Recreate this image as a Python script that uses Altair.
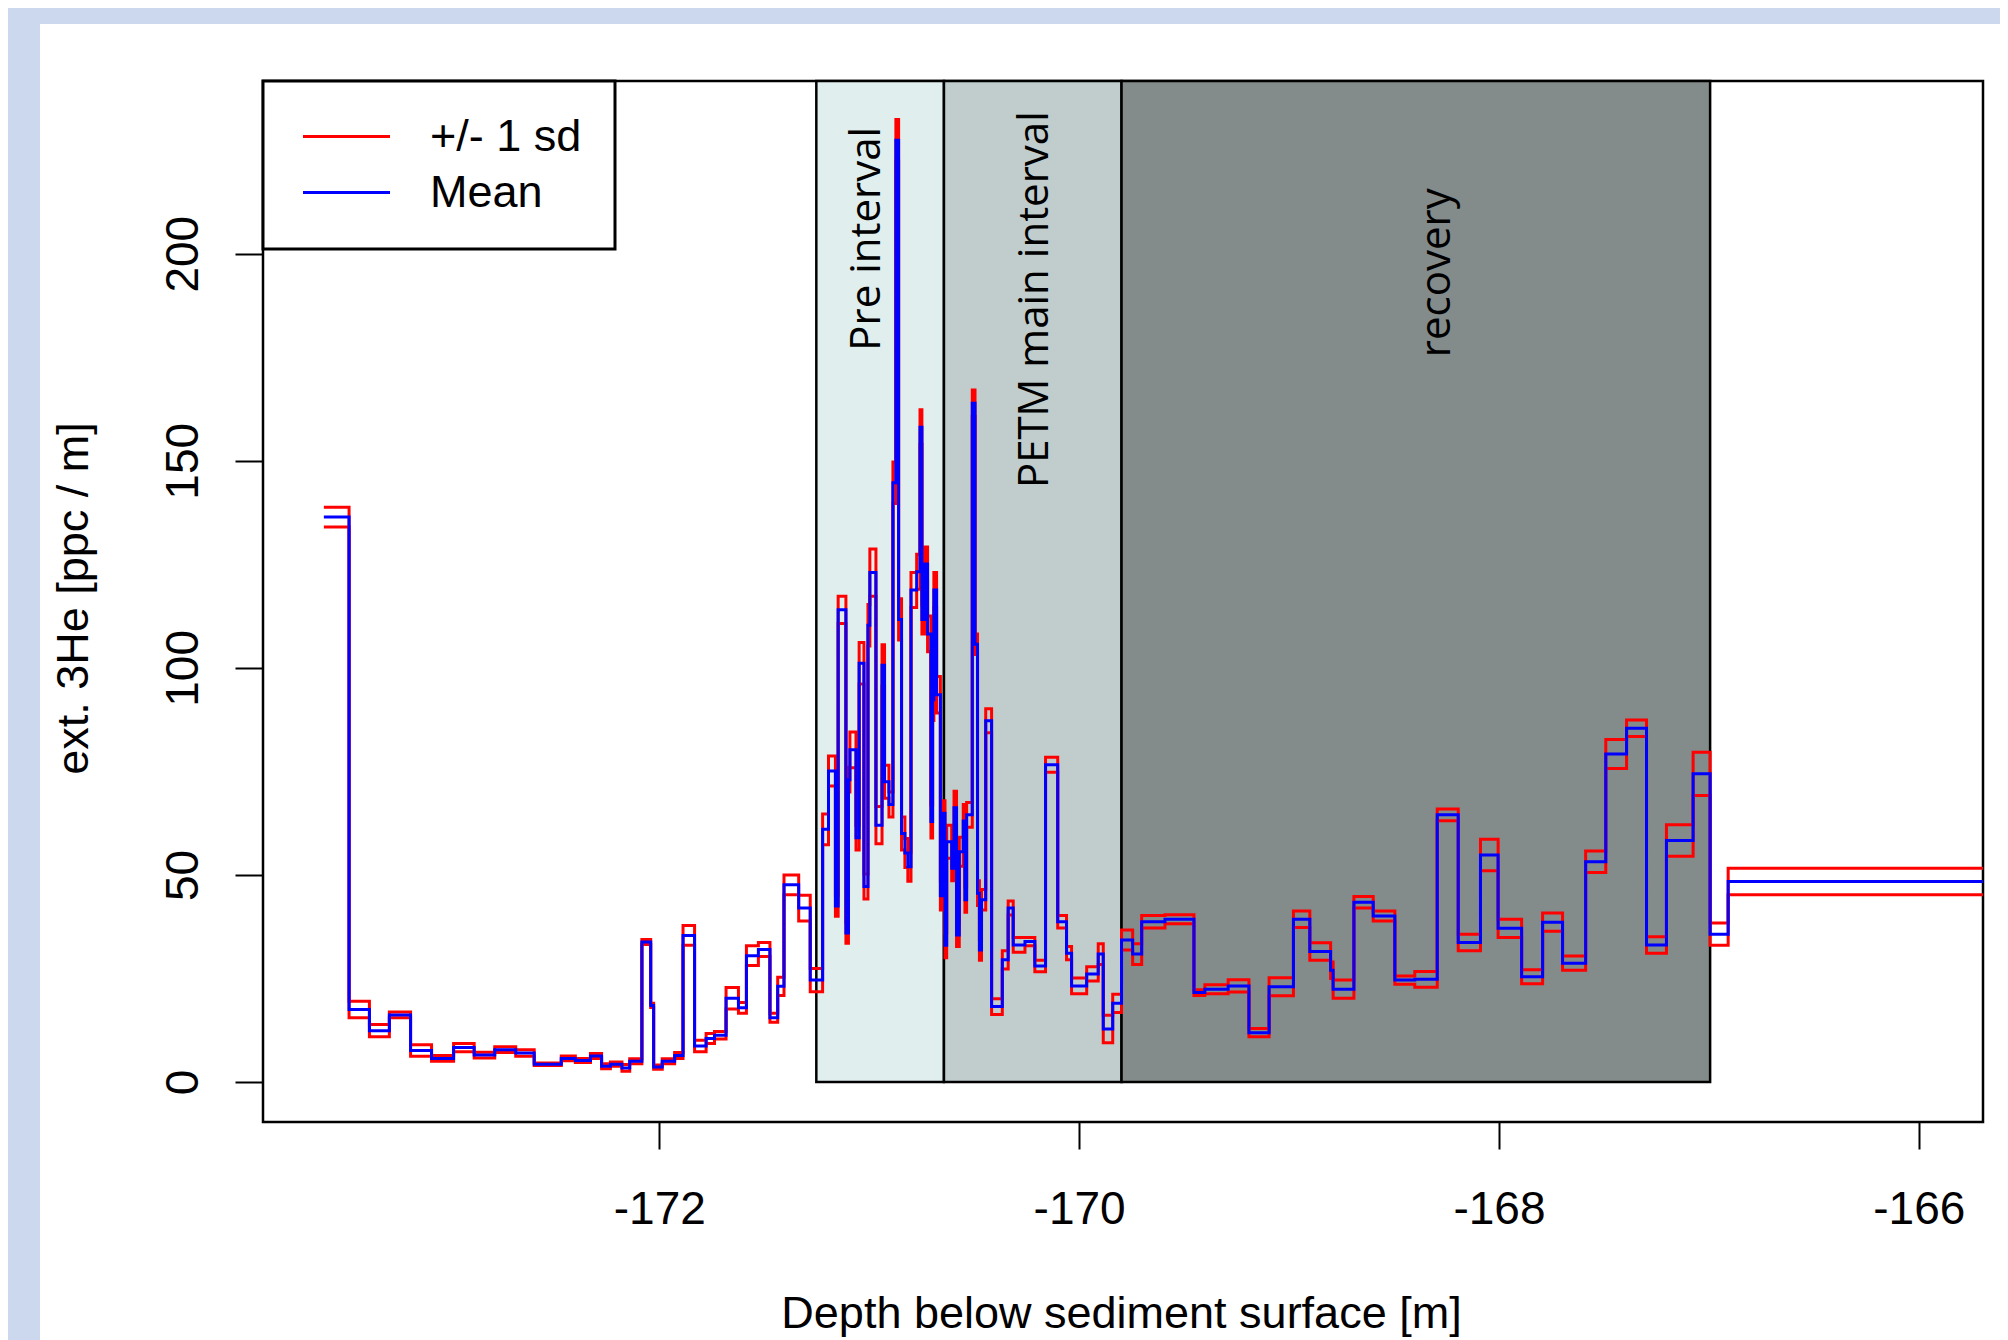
import altair as alt
import pandas as pd

# ---- step data: depth where each step starts, mean, sd ----
depth = [-173.598, -173.478, -173.381, -173.286, -173.185, -173.085, -172.980, -172.882,
         -172.784, -172.684, -172.596, -172.467, -172.400, -172.328, -172.275, -172.233,
         -172.178, -172.141, -172.083, -172.041, -172.027, -171.986, -171.927, -171.887,
         -171.832, -171.777, -171.737, -171.682, -171.623, -171.585, -171.528, -171.473,
         -171.436, -171.406, -171.336, -171.281, -171.222, -171.194,
         -171.161, -171.148, -171.111, -171.099, -171.092, -171.063, -171.048, -171.025,
         -171.006, -170.997, -170.968, -170.939, -170.927, -170.906, -170.887, -170.873,
         -170.860, -170.846, -170.830, -170.816, -170.801, -170.774, -170.758, -170.749,
         -170.735, -170.722, -170.706, -170.698, -170.692, -170.679, -170.661,
         -170.647, -170.639, -170.631, -170.607, -170.596, -170.584, -170.571, -170.552,
         -170.544, -170.536, -170.509, -170.496, -170.484, -170.475, -170.465, -170.445,
         -170.417, -170.366, -170.338, -170.314, -170.258, -170.211, -170.160, -170.102,
         -170.060, -170.036, -169.964, -169.909, -169.885, -169.840,
         -169.798, -169.745, -169.702, -169.591, -169.453, -169.401, -169.290, -169.191,
         -169.095, -168.979, -168.901, -168.802, -168.790, -168.691, -168.599, -168.496,
         -168.401, -168.294, -168.194, -168.088, -168.004, -167.892, -167.792, -167.697,
         -167.587, -167.491, -167.392, -167.297, -167.202, -167.075, -166.994, -166.908,
         -165.694]

mean = [136.4, 17.5, 12.4, 16.2, 7.6, 5.7, 8.3, 6.5,
        7.8, 7.0, 4.3, 5.7, 5.2, 6.3, 3.8, 4.3,
        3.4, 5.0, 33.8, 18.5, 3.6, 5.0, 6.4, 35.4,
        8.7, 10.5, 11.3, 20.2, 17.9, 30.5, 32.0, 15.5,
        23.1, 47.6, 42.0, 24.6, 61.0, 75.1,
        42.5, 114.0, 36.0, 73.0, 80.2, 59.0, 101.1, 47.2,
        110.3, 123.0, 62.0, 100.6, 72.5, 67.0, 144.7, 227.4,
        111.7, 60.0, 55.3, 52.0, 118.8, 123.2, 158.1, 111.7,
        125.1, 108.2, 62.9, 92.3, 118.8, 93.5, 45.0,
        64.9, 33.0, 58.0, 51.6, 66.2, 35.5, 55.6, 63.0,
        44.0, 64.5, 163.9, 105.7, 45.6, 31.9, 44.0, 87.2,
        18.2, 29.5, 42.0, 33.1, 33.9, 28.0, 76.6, 38.7,
        31.1, 23.2, 26.1, 30.9, 12.8, 19.0,
        34.3, 30.9, 38.7, 39.3, 21.6, 22.4, 23.2, 11.9,
        23.0, 39.3, 31.5, 27.0, 22.4, 43.4, 40.1, 24.6,
        24.8, 64.5, 33.7, 54.8, 37.1, 25.4, 38.6, 28.7,
        53.2, 79.2, 85.4, 33.1, 58.3, 74.4, 35.7, 48.4,
        48.4]

sd = [2.4, 2.0, 1.5, 0.7, 1.4, 0.7, 1.0, 0.7,
      0.7, 0.8, 0.3, 0.6, 0.5, 0.6, 0.6, 0.5,
      0.8, 0.6, 0.6, 0.5, 0.5, 0.6, 0.7, 2.4,
      1.4, 1.2, 0.9, 2.6, 1.3, 2.4, 1.7, 1.1,
      2.2, 2.4, 3.1, 2.8, 3.7, 3.6,
      2.5, 3.3, 2.5, 3.0, 4.3, 3.0, 5.0, 3.0,
      5.0, 5.7, 4.5, 5.0, 4.0, 3.0, 5.0, 5.0,
      5.0, 4.0, 3.5, 3.5, 4.2, 4.2, 4.2, 3.5,
      4.1, 4.3, 4.0, 5.0, 4.2, 4.4, 3.5,
      3.0, 3.0, 4.0, 3.0, 4.0, 2.8, 3.5, 4.0,
      3.0, 3.0, 3.2, 2.5, 3.0, 2.5, 2.5, 2.9,
      1.9, 2.2, 1.7, 1.8, 1.0, 1.4, 1.8, 1.5,
      1.6, 1.9, 1.7, 2.5, 3.3, 2.2,
      2.4, 2.5, 1.5, 1.1, 0.7, 1.1, 1.5, 1.0,
      2.2, 2.0, 2.1, 2.0, 2.2, 1.4, 1.2, 1.0,
      1.9, 1.4, 2.0, 3.8, 2.2, 1.7, 2.2, 1.7,
      2.6, 3.5, 2.0, 2.0, 3.8, 5.2, 2.7, 3.2,
      3.2]

assert len(depth) == len(mean) == len(sd), (len(depth), len(mean), len(sd))

# ---- shaded intervals ----
interval_names = ["Pre interval", "PETM main interval", "recovery"]
interval_start = [-171.252, -170.644, -169.798]
interval_end = [-170.644, -169.798, -166.994]
interval_colors = ["#E0EEEE", "#C1CDCD", "#838B8B"]

# ---- interval labels (centre along text, baseline position) ----
label_depth = [-170.949, -170.149, -168.234]
label_value = [203.6, 188.9, 195.4]

x_ticks = [-172, -170, -168, -166]
y_ticks = [0, 50, 100, 150, 200]
x_domain = [-173.888, -165.694]
y_domain = [-9.66, 241.7]

legend_names = ["+/- 1 sd", "Mean"]
legend_colors = ["#FF0000", "#0000FF"]

rows = []
for d, m, s in zip(depth, mean, sd):
    rows.append({"depth": d, "value": m + s, "line": "upper", "legend": legend_names[0]})
    rows.append({"depth": d, "value": m - s, "line": "lower", "legend": legend_names[0]})
    rows.append({"depth": d, "value": m, "line": "mean", "legend": legend_names[1]})
df = pd.DataFrame(rows)

intervals = pd.DataFrame({"name": interval_names, "start": interval_start,
                          "end": interval_end, "fill": interval_colors})
labels = pd.DataFrame({"name": interval_names, "depth": label_depth, "value": label_value})

W, H = 1720, 1041
PAD = {"left": 255, "top": 73, "right": 17, "bottom": 218}
BG = "#CBD8EE"

xscale = alt.Scale(domain=x_domain, nice=False, zero=False)
yscale = alt.Scale(domain=y_domain, nice=False, zero=False)

xaxis = alt.Axis(values=x_ticks, labelExpr="'' + datum.value", tickSize=27, tickWidth=2,
                 labelFontSize=46, labelFont="Liberation Sans", labelBaseline="alphabetic",
                 labelPadding=74, title="Depth below sediment surface [m]",
                 titleFontSize=45, titleFont="Liberation Sans", titleBaseline="alphabetic",
                 titleX=858, titleY=205, domain=False, grid=False)
yaxis = alt.Axis(values=y_ticks, labelAngle=270, labelAlign="center", labelBaseline="alphabetic",
                 labelPadding=38, tickSize=28, tickWidth=2, labelFontSize=46,
                 labelFont="Liberation Sans", title="ext. 3He [ppc / m]", titleAngle=270,
                 titleAlign="center", titleBaseline="alphabetic", titleX=-176, titleY=517,
                 titleFontSize=45, titleFont="Liberation Sans", domain=False, grid=False)

one = pd.DataFrame({"a": [0]})
strip_left = alt.Chart(one).mark_rect(color=BG).encode(
    x=alt.value(-PAD["left"]), x2=alt.value(-223), y=alt.value(-PAD["top"]),
    y2=alt.value(H + PAD["bottom"]))
strip_top = alt.Chart(one).mark_rect(color=BG).encode(
    x=alt.value(-PAD["left"]), x2=alt.value(W + PAD["right"]), y=alt.value(-PAD["top"]),
    y2=alt.value(-57))

shade = alt.Chart(intervals).mark_rect(stroke="black", strokeWidth=2.5).encode(
    x=alt.X("start:Q", scale=xscale, axis=xaxis),
    x2="end:Q",
    y=alt.datum(0, scale=yscale, axis=yaxis),
    y2=alt.value(0),
    fill=alt.Fill("fill:N", scale=None),
)

text = alt.Chart(labels).mark_text(angle=270, align="center", baseline="alphabetic",
                                   font="Open Sans", fontSize=42, color="black").encode(
    x=alt.X("depth:Q", scale=xscale),
    y=alt.Y("value:Q", scale=yscale),
    text="name:N",
)

color = alt.Color("legend:N",
                  scale=alt.Scale(domain=legend_names, range=legend_colors),
                  legend=alt.Legend(title=None, orient="none", legendX=0, legendY=0,
                                    symbolType="M-1,0H5", symbolSize=841,
                                    symbolStrokeWidth=3, symbolOffset=-1, labelOffset=90,
                                    labelFontSize=45, labelFont="Liberation Sans",
                                    labelColor="black", padding=33, rowPadding=10,
                                    strokeColor="black", fillColor="white"))

red = alt.Chart(df[df["legend"] == legend_names[0]]).mark_line(
    interpolate="step-after", strokeWidth=3, clip=True).encode(
    x=alt.X("depth:Q", scale=xscale),
    y=alt.Y("value:Q", scale=yscale),
    color=color,
    detail="line:N",
)
blue = alt.Chart(df[df["legend"] == legend_names[1]]).mark_line(
    interpolate="step-after", strokeWidth=3, clip=True).encode(
    x=alt.X("depth:Q", scale=xscale),
    y=alt.Y("value:Q", scale=yscale),
    color=color,
    detail="line:N",
)

chart = alt.layer(strip_left, strip_top, shade, text, red, blue).properties(
    width=W, height=H, autosize=alt.AutoSizeParams(type="none"), padding=PAD,
    background="white",
).configure_view(stroke="black", strokeWidth=2.5, fill="white").configure_axis(
    labelColor="black", tickColor="black", titleColor="black", titleFontWeight="normal"
).configure_legend(strokeWidth=3)

chart.save("out.html", embed_options={"renderer": "svg", "actions": False})
